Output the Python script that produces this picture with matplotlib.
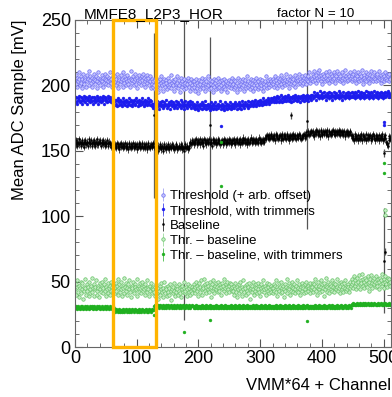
import numpy as np
import matplotlib
matplotlib.use('Agg')
import matplotlib.pyplot as plt
from matplotlib.patches import Rectangle

plt.rcParams['font.family'] = ['Liberation Sans', 'DejaVu Sans']

# mean ADC sample per channel (VMM*64 + channel), one row per VMM
thr_offset = [
    204,208,201,199,206,203,210,205,200,207,202,198,205,209,203,201,206,204,199,208,203,205,211,200,204,207,202,206,199,203,209,205,
    201,204,207,198,203,206,210,202,205,200,204,208,203,199,206,202,205,209,201,204,207,203,200,206,204,210,202,205,199,207,203,205,
    203,207,200,205,209,202,198,206,204,201,208,203,205,199,210,204,202,207,200,205,203,208,201,206,204,199,205,211,202,204,207,200,
    203,209,205,201,206,198,204,208,202,205,203,200,207,204,209,201,206,203,199,205,208,202,204,206,200,203,207,198,205,201,199,203,
    200,204,197,202,206,199,203,195,201,205,198,202,207,200,196,203,201,205,199,204,202,197,206,200,203,199,201,208,198,202,204,200,
    196,203,205,199,201,207,202,198,200,204,195,202,206,199,203,201,197,205,200,202,198,204,201,206,199,203,196,202,205,200,198,203,
    199,203,196,201,205,198,202,200,194,204,201,197,203,199,206,200,198,202,205,196,201,203,199,207,200,197,202,204,198,201,203,195,
    200,205,199,202,197,204,200,198,206,201,199,203,196,200,204,198,202,199,205,197,201,203,200,195,202,199,204,201,198,203,200,206,
    201,197,204,199,203,200,195,202,206,198,200,204,197,201,203,199,205,200,196,202,204,198,201,207,199,203,200,197,202,205,199,201,
    196,204,200,203,198,202,206,200,197,203,199,201,205,198,200,204,202,196,201,199,203,207,200,198,202,204,199,201,205,200,203,202,
    201,205,199,203,207,200,204,198,202,206,203,200,205,208,201,204,199,203,206,202,200,204,209,201,203,205,198,202,207,204,201,203,
    206,200,205,202,208,199,204,203,206,201,204,209,202,205,203,200,207,204,202,206,203,208,205,201,204,207,203,210,205,202,206,204,
    205,209,203,207,211,204,208,202,206,210,204,207,212,205,203,208,206,201,209,205,207,203,210,206,204,208,205,211,202,206,209,204,
    207,203,205,210,206,208,202,207,205,211,204,206,209,203,207,205,210,204,206,202,208,205,212,207,203,206,209,204,207,205,210,206,
    207,203,209,205,211,204,206,208,202,207,205,210,203,206,209,204,207,212,205,201,208,206,204,210,203,207,205,209,206,202,208,205,
    211,204,207,203,206,210,205,208,203,207,209,204,206,211,205,202,208,206,204,209,207,203,210,205,206,208,204,207,203,209,206,205,
]
thr_trim = [
    190,187,191,188,186,190,192,189,187,191,188,190,186,189,192,188,190,187,191,189,186,190,188,192,189,187,190,191,188,186,189,191,
    190,187,188,192,189,190,186,188,191,189,187,190,188,192,189,186,190,191,188,189,187,190,192,188,189,191,187,190,188,186,190,189,
    188,185,189,186,184,188,190,187,185,189,186,188,184,187,190,186,188,185,189,187,184,188,186,190,187,185,188,189,186,184,187,189,
    188,185,186,190,187,188,184,186,189,187,185,188,186,190,187,184,188,189,186,187,185,188,190,186,187,189,185,188,186,184,183,186,
    184,187,185,183,186,188,184,186,182,185,187,184,186,188,183,185,187,184,186,189,185,183,186,184,187,185,182,186,188,184,185,187,
    183,186,184,188,185,183,186,187,184,186,185,189,183,185,187,184,186,182,185,188,184,186,183,187,185,184,186,188,183,185,187,184,
    183,186,184,182,185,187,183,185,181,184,186,183,185,187,182,184,186,183,185,188,184,182,185,183,186,184,181,185,187,183,184,186,
    182,185,183,187,184,182,185,186,183,185,184,188,182,184,186,183,185,181,184,187,183,185,182,186,184,183,185,187,182,184,186,183,
    184,186,183,185,187,184,182,186,185,183,187,184,186,182,185,188,184,186,183,185,187,185,184,186,188,183,185,187,184,186,185,188,
    186,184,187,185,189,186,184,187,186,188,185,187,189,186,188,185,187,190,186,188,187,189,186,188,190,187,189,186,188,190,187,189,
    188,190,187,191,189,187,190,192,188,190,187,191,189,193,188,190,187,191,189,188,192,190,188,191,189,193,190,188,191,189,187,191,
    190,192,188,190,193,189,191,188,190,192,189,191,187,190,192,189,191,193,190,188,192,190,189,191,193,190,188,192,190,191,189,193,
    193,190,192,195,191,193,189,192,194,191,193,190,192,196,191,193,194,190,192,195,191,193,189,192,194,191,193,195,190,192,194,191,
    193,189,192,195,191,193,190,194,192,191,193,196,190,192,194,191,193,189,192,195,191,193,190,194,192,191,193,195,190,192,194,191,
    192,195,191,194,193,190,195,192,194,191,193,196,192,194,190,193,195,191,194,192,190,194,193,196,191,193,195,192,190,194,193,191,
    195,192,194,190,193,196,192,194,191,193,195,190,194,192,193,195,191,194,192,190,194,193,195,191,192,194,193,196,191,194,192,193,
]
baseline = [
    156,158,155,157,154,156,159,155,157,156,154,158,156,155,157,153,156,158,155,157,156,154,157,159,155,156,158,154,156,157,155,158,
    156,154,157,155,159,156,155,157,158,156,154,156,157,155,158,156,154,157,156,155,158,156,154,157,155,156,153,155,154,153,155,154,
    153,155,152,154,156,153,155,154,151,155,153,156,154,152,155,153,154,156,152,154,155,153,151,154,156,153,155,152,154,153,156,154,
    152,155,153,154,151,155,153,156,154,152,155,153,154,156,152,153,155,154,152,155,153,151,154,156,153,154,152,155,153,154,156,155,
    153,151,154,152,155,153,150,154,152,153,155,151,153,154,152,150,153,155,152,154,151,153,152,155,153,151,154,152,153,155,152,154,
    151,153,152,154,155,153,151,152,154,153,152,155,153,151,154,152,153,150,153,155,152,154,153,151,152,154,156,157,155,158,156,157,
    157,155,158,156,159,157,155,158,156,157,159,155,157,158,156,154,157,159,156,158,157,155,158,156,157,159,155,157,158,156,154,157,
    159,156,158,157,155,158,156,157,159,156,158,155,157,156,158,157,155,159,156,158,157,155,158,156,157,159,156,158,155,157,158,156,
    158,156,159,157,155,158,157,159,156,158,157,155,159,157,158,156,160,157,158,156,159,157,158,155,157,159,156,158,157,160,158,156,
    157,159,158,156,158,157,159,157,156,158,160,157,159,158,156,158,157,159,158,157,160,161,159,162,160,161,159,162,160,161,163,160,
    161,159,162,160,158,161,163,160,162,159,161,160,162,158,161,163,160,159,162,161,160,162,159,161,163,160,158,161,162,160,161,159,
    162,160,163,161,160,162,159,161,162,160,161,163,160,162,159,161,160,162,161,163,160,162,161,164,162,163,165,162,164,163,165,164,
    164,162,165,163,161,164,166,163,165,162,164,163,165,161,164,166,163,162,165,164,163,165,162,164,166,163,161,164,165,163,164,162,
    165,163,166,164,163,165,162,164,165,163,164,166,163,165,162,164,163,165,164,162,165,163,161,164,163,165,162,164,163,165,164,162,
    160,162,159,161,158,160,163,159,161,160,158,162,160,159,161,163,160,158,161,162,159,161,160,163,158,160,162,159,161,160,162,158,
    160,161,159,163,160,161,158,160,162,159,161,160,158,162,160,159,161,163,160,158,161,159,162,160,157,155,156,154,158,161,159,160,
]
thr_minus_base = [
    44,48,40,46,51,42,38,47,45,50,41,44,49,37,46,43,52,45,40,48,43,46,39,50,44,41,47,53,42,45,48,39,
    44,46,51,40,43,47,45,38,49,44,42,50,46,41,45,48,43,52,39,46,44,41,49,45,47,40,43,50,46,42,48,44,
    46,41,49,43,47,52,40,45,48,42,50,44,39,47,45,53,41,46,43,49,45,40,48,44,51,42,46,38,47,45,50,43,
    41,48,46,44,52,39,45,47,42,49,45,41,46,50,43,47,44,40,48,45,42,51,46,44,39,47,43,49,45,41,46,44,
    42,46,39,44,48,41,45,37,43,47,40,44,49,42,38,45,43,50,41,46,44,39,47,42,45,40,48,43,36,44,46,41,
    49,43,39,45,42,47,44,40,48,43,41,46,38,44,47,42,45,50,41,43,46,39,44,48,42,45,40,47,43,46,41,44,
    44,48,41,46,50,43,47,39,45,49,42,46,51,44,40,47,45,52,43,48,46,41,49,44,47,42,50,45,38,46,48,43,
    51,45,41,47,44,49,46,42,50,45,43,48,40,46,49,44,47,52,43,45,48,41,46,50,44,47,42,49,45,48,43,46,
    43,47,40,45,49,42,46,38,44,48,41,45,50,43,39,46,44,51,42,47,45,40,48,43,46,41,49,44,37,45,47,42,
    50,44,40,46,43,48,45,41,49,44,42,47,39,45,48,43,46,51,42,44,47,40,45,49,43,46,41,48,44,47,42,45,
    45,41,48,43,47,51,42,46,39,44,49,43,46,41,50,45,42,47,44,38,48,43,46,52,41,45,49,44,40,47,43,46,
    50,42,45,48,41,44,47,43,51,45,42,48,44,40,46,49,43,47,45,41,48,44,50,42,46,43,47,45,41,49,44,46,
    46,42,49,44,48,52,43,47,40,45,50,44,47,42,51,46,43,48,45,39,49,44,47,53,42,46,50,45,41,48,44,47,
    51,43,46,49,42,45,48,44,52,46,43,49,45,41,47,50,44,48,46,42,49,45,51,43,47,44,48,46,42,50,45,47,
    48,52,45,50,54,47,51,44,49,53,46,50,55,48,44,51,49,56,47,52,50,45,53,48,51,46,54,49,43,50,52,47,
    55,49,45,51,48,53,50,46,54,49,47,52,44,50,53,48,51,56,47,49,52,45,50,54,48,51,46,53,49,52,47,50,
]
thr_minus_base_trim = [
    30,31,30,29,30,31,30,30,29,31,30,30,31,29,30,30,31,30,29,30,31,30,30,29,31,30,30,31,30,29,30,31,
    30,30,29,30,31,30,30,31,29,30,30,31,30,29,30,30,31,30,30,29,31,30,30,29,30,31,30,30,29,30,31,30,
    28,27,28,29,28,27,28,28,29,27,28,28,27,29,28,28,27,28,29,28,27,28,28,29,27,28,28,27,28,29,28,27,
    28,28,29,28,27,28,28,27,29,28,28,27,28,29,28,28,27,28,28,29,27,28,28,27,29,28,28,27,28,29,28,28,
    31,30,32,31,30,31,32,31,30,31,32,31,31,30,32,31,30,31,31,32,30,31,32,31,31,30,31,32,31,30,31,31,
    32,30,31,31,30,32,31,31,30,31,32,31,30,31,31,32,30,31,31,30,32,31,31,30,31,32,31,30,31,32,31,31,
    30,31,31,30,32,30,31,30,31,31,30,31,30,32,31,30,31,31,30,31,32,30,31,30,31,31,30,32,31,30,31,30,
    31,31,30,31,32,30,31,30,31,31,30,31,32,30,31,30,31,31,30,32,31,30,31,30,31,31,30,31,32,30,31,30,
    31,30,31,32,30,31,30,31,31,30,32,31,30,31,30,31,32,30,31,31,30,31,30,32,31,30,31,31,30,31,31,30,
    32,31,30,31,30,31,32,30,31,31,30,31,30,32,31,30,31,31,30,31,32,30,31,30,31,31,30,32,31,30,31,31,
    30,31,31,30,31,32,30,31,30,31,31,30,32,31,30,31,31,30,31,30,32,31,30,31,31,30,31,32,30,31,30,31,
    31,30,32,31,30,31,31,30,31,30,32,31,31,30,31,30,31,32,30,31,31,30,31,31,32,30,31,30,31,31,30,31,
    31,30,31,31,30,32,31,30,31,31,30,31,32,30,31,31,30,31,31,30,32,31,30,31,31,30,31,32,31,30,31,31,
    30,32,31,30,31,31,30,31,32,30,31,31,30,31,31,32,30,31,31,30,31,32,31,30,31,31,30,31,32,31,31,30,
    32,33,32,34,33,32,33,33,32,34,33,32,33,34,32,33,33,32,34,33,32,33,34,33,32,33,33,34,32,33,33,32,
    34,33,33,32,33,34,33,32,33,33,32,34,33,32,33,33,34,32,33,32,34,33,33,34,32,33,33,32,33,34,33,32,
]

# channels that stick out of the bands
base_out_ch = [128, 177, 219, 350, 376, 500, 501, 502]
base_out_val = [177, 152, 170, 177, 173, 148, 66, 73]
base_out_err = [63, 131, 67, 3, 83, 3, 40, 3]
trim_out_ch = [236, 500, 501]
trim_out_val = [169, 172, 170]
diff_out_ch = [502, 503]
diff_out_val = [105, 101]
difftrim_out_ch = [128, 177, 219, 236, 237, 376, 500, 501]
difftrim_out_val = [24.5, 11.5, 20.5, 123, 157, 20, 141, 133]

legend_labels = ['Threshold (+ arb. offset)', 'Threshold, with trimmers', 'Baseline',
                 'Thr. \u2013 baseline', 'Thr. \u2013 baseline, with trimmers']

fig = plt.figure(figsize=(3.92, 3.97), dpi=100)
ax = fig.add_axes([75/392, 50/397, 316/392, 327/397])

sty_thr = dict(fmt='o', ms=2.5, mfc='#c4c4ff', mec='#6c6cf0', mew=0.5, ecolor='#9090f2', elinewidth=0.5)
sty_trim = dict(fmt='o', ms=2.1, mfc='#1c1cee', mec='#1c1cee', mew=0.3, ecolor='#1c1cee', elinewidth=0.5)
sty_base = dict(fmt='o', ms=1.5, mfc='black', mec='black', mew=0.3, ecolor='black', elinewidth=0.5)
sty_diff = dict(fmt='o', ms=2.5, mfc='#c6edc6', mec='#66c266', mew=0.5, ecolor='#88d288', elinewidth=0.5)
sty_dtrim = dict(fmt='o', ms=2.1, mfc='#1fb01f', mec='#1fb01f', mew=0.3, ecolor='#1fb01f', elinewidth=0.5)

h1 = ax.errorbar(np.arange(len(thr_offset)), thr_offset, yerr=0.8, **sty_thr)
h2 = ax.errorbar(np.arange(len(thr_trim)), thr_trim, yerr=0.8, **sty_trim)
h3 = ax.errorbar(np.arange(len(baseline)), baseline, yerr=2.5, **sty_base)
h4 = ax.errorbar(np.arange(len(thr_minus_base)), thr_minus_base, yerr=0.8, **sty_diff)
h5 = ax.errorbar(np.arange(len(thr_minus_base_trim)), thr_minus_base_trim, yerr=0.6, **sty_dtrim)

ax.errorbar(base_out_ch, base_out_val, yerr=base_out_err, **dict(sty_base, ecolor='#555555', elinewidth=0.9))
ax.errorbar(trim_out_ch, trim_out_val, yerr=0.8, **sty_trim)
ax.errorbar(diff_out_ch, diff_out_val, yerr=0.8, **sty_diff)
ax.errorbar(difftrim_out_ch, difftrim_out_val, yerr=0.6, **sty_dtrim)

# highlighted VMM
ax.add_patch(Rectangle((61, 0), 71, 250, fill=False, ec='#ffb400', lw=2.4, zorder=10, clip_on=False))

ax.set_xlim(0, 512)
ax.set_ylim(0, 250)
ax.set_xticks(range(0, 501, 100))
ax.set_xticks(range(0, 513, 20), minor=True)
ax.set_yticks(range(0, 251, 50))
ax.set_yticks(range(0, 251, 10), minor=True)
ax.tick_params(which='both', direction='in', top=True, right=True, labelsize=13, color='#555555')
ax.tick_params(axis='x', pad=2)
ax.tick_params(axis='y', pad=3)
ax.tick_params(which='major', length=6)
ax.tick_params(which='minor', length=3)
for sp in ax.spines.values():
    sp.set_color('#666666')
    sp.set_linewidth(0.8)

leg = ax.legend([h1, h2, h3, h4, h5], legend_labels, loc='upper left', frameon=False,
                bbox_to_anchor=(159/392, 1 - 190/397), bbox_transform=fig.transFigure,
                fontsize=9.5, handlelength=0.6, handletextpad=0.25, labelspacing=0.2,
                borderpad=0, borderaxespad=0)

fig.text(153.5/392, 1 - 18.5/397, 'MMFE8_L2P3_HOR', ha='center', va='baseline', fontsize=11)
fig.text(316/392, 1 - 17/397, 'factor N = 10', ha='center', va='baseline', fontsize=9.6)
fig.text(391/392, 1 - 390/397, 'VMM*64 + Channel', ha='right', va='baseline', fontsize=12)
fig.text(20/392, 1 - 20/397, 'Mean ADC Sample [mV]', rotation=90, ha='center', va='top', fontsize=12)

fig.savefig('out.png', dpi=100)
